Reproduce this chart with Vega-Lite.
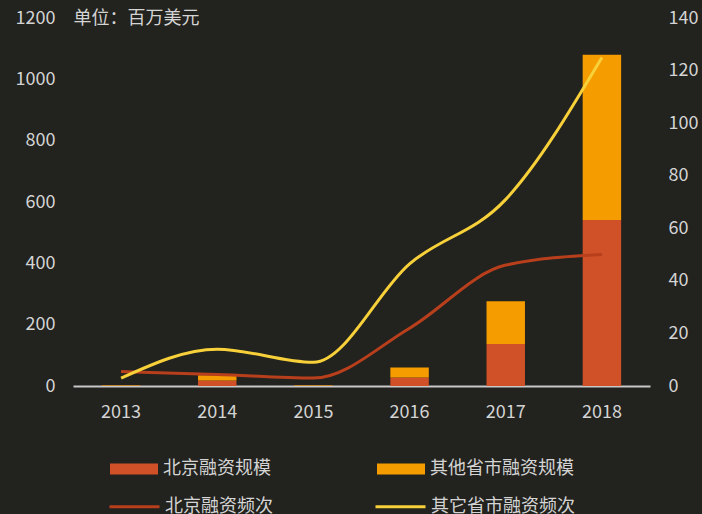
{
  "$schema": "https://vega.github.io/schema/vega-lite/v6.json",
  "autosize": "none",
  "width": 577,
  "height": 368,
  "padding": {"left": 73, "top": 18, "right": 52, "bottom": 128},
  "background": "#22221e",
  "config": {
    "view": {"stroke": null},
    "font": "Noto Sans CJK SC",
    "axis": {"labelColor": "#d4d4d4", "labelFontSize": 18, "labelFont": "Noto Sans CJK SC", "grid": false, "ticks": false},
    "legend": {"labelColor": "#d4d4d4", "labelFontSize": 18, "labelFont": "Noto Sans CJK SC"}
  },
  "datasets": {
    "bars": [
      {"year": "2013", "series": "北京融资规模", "value": 0.5},
      {"year": "2013", "series": "其他省市融资规模", "value": 2},
      {"year": "2014", "series": "北京融资规模", "value": 18},
      {"year": "2014", "series": "其他省市融资规模", "value": 17},
      {"year": "2015", "series": "北京融资规模", "value": 0.5},
      {"year": "2015", "series": "其他省市融资规模", "value": 2},
      {"year": "2016", "series": "北京融资规模", "value": 28},
      {"year": "2016", "series": "其他省市融资规模", "value": 32},
      {"year": "2017", "series": "北京融资规模", "value": 137},
      {"year": "2017", "series": "其他省市融资规模", "value": 139},
      {"year": "2018", "series": "北京融资规模", "value": 541},
      {"year": "2018", "series": "其他省市融资规模", "value": 539}
    ],
    "lines": [
      {"year": "2013", "series": "北京融资频次", "count": 5.5},
      {"year": "2014", "series": "北京融资频次", "count": 4.4},
      {"year": "2015", "series": "北京融资频次", "count": 3},
      {"year": "2016", "series": "北京融资频次", "count": 22},
      {"year": "2017", "series": "北京融资频次", "count": 46},
      {"year": "2018", "series": "北京融资频次", "count": 50},
      {"year": "2013", "series": "其它省市融资频次", "count": 3},
      {"year": "2014", "series": "其它省市融资频次", "count": 14},
      {"year": "2015", "series": "其它省市融资频次", "count": 9},
      {"year": "2016", "series": "其它省市融资频次", "count": 46.5},
      {"year": "2017", "series": "其它省市融资频次", "count": 71},
      {"year": "2018", "series": "其它省市融资频次", "count": 125}
    ]
  },
  "encoding": {
    "x": {
      "field": "year", "type": "ordinal",
      "scale": {"paddingInner": 0.6, "paddingOuter": 0.3},
      "axis": {"title": null, "labelAngle": 0, "domainColor": "#c8c8c8", "domainWidth": 2, "labelPadding": 17}
    }
  },
  "layer": [
    {
      "data": {"name": "bars"},
      "mark": {"type": "bar"},
      "encoding": {
        "y": {
          "field": "value", "type": "quantitative", "stack": "zero",
          "scale": {"domain": [0, 1200]},
          "axis": {"values": [0, 200, 400, 600, 800, 1000, 1200], "format": "d", "domain": false, "labelPadding": 18,
                   "title": "单位：百万美元", "titleAngle": 0, "titleX": 0, "titleY": 0, "titleAlign": "left",
                   "titleBaseline": "middle", "titleColor": "#d4d4d4", "titleFontSize": 18, "titleFontWeight": "normal", "titleFont": "Noto Sans CJK SC"}
        },
        "color": {
          "field": "series", "type": "nominal",
          "scale": {"domain": ["北京融资规模", "其他省市融资规模"], "range": ["#d05128", "#f59c00"]},
          "legend": {"title": null, "orient": "none", "legendX": 37, "legendY": 427, "direction": "horizontal",
                     "symbolType": "M-1,-0.23H1V0.23H-1Z", "symbolSize": 2304, "symbolStrokeWidth": 0,
                     "labelOffset": 5, "columnPadding": 106}
        },
        "order": {"field": "series", "sort": "descending"}
      }
    },
    {
      "data": {"name": "lines"},
      "mark": {"type": "line", "interpolate": "monotone", "strokeWidth": 3},
      "encoding": {
        "y": {
          "field": "count", "type": "quantitative",
          "scale": {"domain": [0, 140]},
          "axis": {"orient": "right", "values": [0, 20, 40, 60, 80, 100, 120, 140], "domain": false, "labelPadding": 18, "title": null}
        },
        "color": {
          "field": "series", "type": "nominal",
          "scale": {"domain": ["北京融资频次", "其它省市融资频次"], "range": ["#b83f1c", "#f8d13a"]},
          "legend": {"title": null, "orient": "none", "legendX": 35, "legendY": 462, "direction": "horizontal",
                     "symbolType": "stroke", "symbolSize": 2500, "symbolStrokeWidth": 3,
                     "labelOffset": 4, "columnPadding": 96}
        }
      }
    }
  ],
  "resolve": {"scale": {"y": "independent", "color": "independent"}}
}
